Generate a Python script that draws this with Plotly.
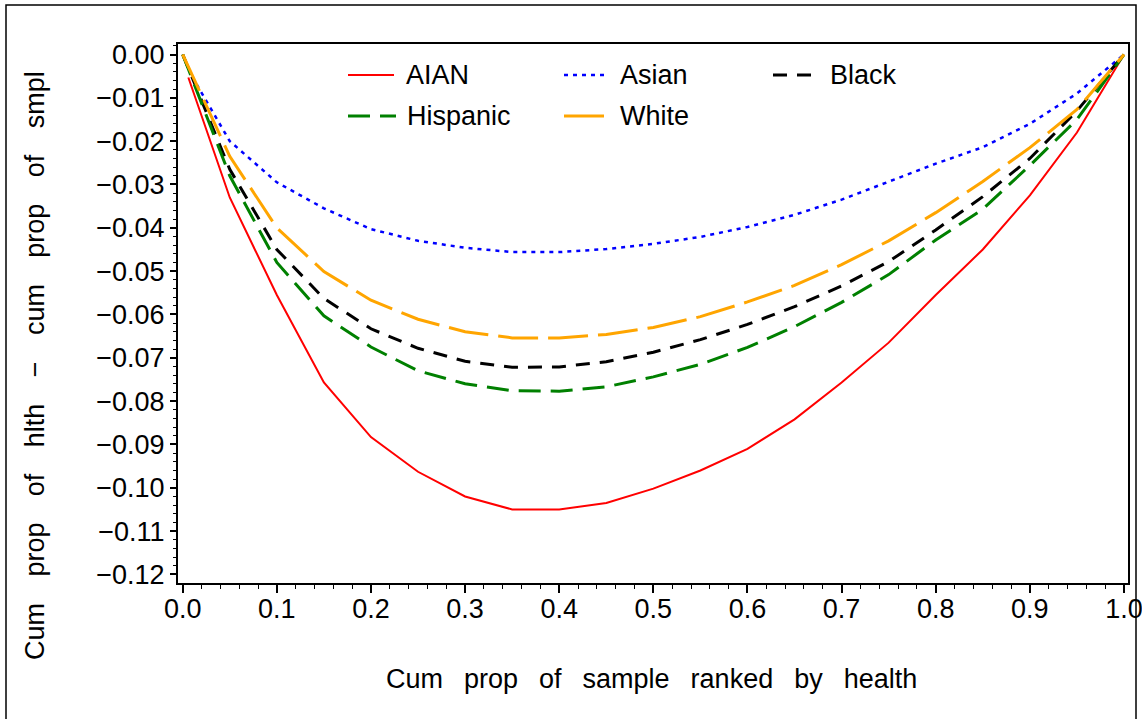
import plotly.graph_objects as go

# Cumulative proportion of the sample, ranked by health
cum_prop = [0.00, 0.05, 0.10, 0.15, 0.20, 0.25, 0.30, 0.35, 0.40, 0.45, 0.50,
            0.55, 0.60, 0.65, 0.70, 0.75, 0.80, 0.85, 0.90, 0.95, 1.00]

# Cum prop of health minus cum prop of sample, per group
aian_x = [0.006] + cum_prop[1:]
aian = [-0.0053, -0.0330, -0.0555, -0.0757, -0.0883, -0.0963, -0.1020, -0.1050,
        -0.1050, -0.1035, -0.1002, -0.0960, -0.0910, -0.0842, -0.0757, -0.0665,
        -0.0555, -0.0450, -0.0325, -0.0180, 0.0000]

asian_x = [0.010] + cum_prop[1:]
asian = [-0.0051, -0.0200, -0.0295, -0.0355, -0.0403, -0.0430, -0.0446, -0.0456,
         -0.0456, -0.0449, -0.0437, -0.0421, -0.0398, -0.0370, -0.0335, -0.0293,
         -0.0252, -0.0214, -0.0160, -0.0090, 0.0000]

black = [0.0000, -0.0265, -0.0450, -0.0563, -0.0633, -0.0678, -0.0708, -0.0722,
         -0.0721, -0.0709, -0.0687, -0.0658, -0.0623, -0.0582, -0.0534, -0.0478,
         -0.0405, -0.0328, -0.0240, -0.0130, 0.0000]

hispanic = [0.0000, -0.0280, -0.0480, -0.0603, -0.0675, -0.0730, -0.0760, -0.0776,
            -0.0777, -0.0767, -0.0744, -0.0715, -0.0676, -0.0628, -0.0572, -0.0508,
            -0.0428, -0.0357, -0.0256, -0.0150, 0.0000]

white = [0.0000, -0.0235, -0.0400, -0.0501, -0.0567, -0.0611, -0.0640, -0.0654,
         -0.0654, -0.0646, -0.0630, -0.0605, -0.0571, -0.0533, -0.0485, -0.0430,
         -0.0365, -0.0293, -0.0215, -0.0127, 0.0000]

x_ticks = [0.0, 0.1, 0.2, 0.3, 0.4, 0.5, 0.6, 0.7, 0.8, 0.9, 1.0]
x_tick_text = ["0.0", "0.1", "0.2", "0.3", "0.4", "0.5", "0.6", "0.7", "0.8", "0.9", "1.0"]
y_ticks = [0.00, -0.01, -0.02, -0.03, -0.04, -0.05, -0.06, -0.07, -0.08, -0.09,
           -0.10, -0.11, -0.12]
y_tick_text = ["0.00", "\u22120.01", "\u22120.02", "\u22120.03", "\u22120.04", "\u22120.05",
               "\u22120.06", "\u22120.07", "\u22120.08", "\u22120.09", "\u22120.10",
               "\u22120.11", "\u22120.12"]

FONT = "Liberation Sans, Arial, sans-serif"
W, H = 1142, 719
L, R, T, B = 178, 1128, 44, 583  # plot area in pixels

series = [
    dict(name="AIAN", x=aian_x, y=aian, color="#FF0000", dash="solid", width=2,
         leg=(348, 394, 404, 75)),
    dict(name="Asian", x=asian_x, y=asian, color="#0000FF", dash="4px,5px", width=2.5,
         leg=(564, 606, 618, 75)),
    dict(name="Black", x=cum_prop, y=black, color="#000000", dash="14px,10px", width=3,
         leg=(773, 815, 828, 75)),
    dict(name="Hispanic", x=cum_prop, y=hispanic, color="#008000", dash="22px,10px", width=3,
         leg=(348, 396, 405, 116)),
    dict(name="White", x=cum_prop, y=white, color="#FFA500", dash="40px,10px", width=3,
         leg=(564, 608, 618, 116)),
]


def px_x(p):
    return (p - L) / (R - L)


def px_y(p):
    return (B - p) / (B - T)


fig = go.Figure()
shapes = []
annotations = []
for s in series:
    fig.add_trace(go.Scatter(x=s["x"], y=s["y"], mode="lines", name=s["name"],
                             line=dict(color=s["color"], dash=s["dash"], width=s["width"]),
                             showlegend=False))
    x0, x1, tx, ty = s["leg"]
    shapes.append(dict(type="line", xref="paper", yref="paper",
                       x0=px_x(x0), x1=px_x(x1), y0=px_y(ty), y1=px_y(ty),
                       line=dict(color=s["color"], width=s["width"], dash=s["dash"])))
    annotations.append(dict(text=s["name"], xref="paper", yref="paper",
                            x=px_x(tx), y=px_y(ty), xanchor="left", yanchor="middle",
                            showarrow=False, font=dict(family=FONT, size=27, color="black")))

# outer frame of the graph
shapes.append(dict(type="rect", xref="paper", yref="paper",
                   x0=px_x(6), x1=px_x(1136), y0=px_y(740), y1=px_y(5),
                   line=dict(color="black", width=1.5), layer="below"))

ysp = "\u2002\u00a0\u2009"
annotations.append(dict(
    text=ysp.join(["Cum", "prop", "of", "hlth", "\u2212", "cum", "prop", "of", "smpl"]),
    xref="paper", yref="paper", x=px_x(35), y=px_y(366), textangle=-90,
    xanchor="center", yanchor="middle", showarrow=False,
    font=dict(family=FONT, size=27, color="black")))

xsp = "\u00a0\u2002"
annotations.append(dict(
    text=xsp.join(["Cum", "prop", "of", "sample", "ranked", "by", "health"]),
    xref="paper", yref="paper", x=px_x(651), y=px_y(679),
    xanchor="center", yanchor="middle", showarrow=False,
    font=dict(family=FONT, size=27, color="black")))

fig.update_layout(
    width=W, height=H,
    margin=dict(l=L, r=W - R, t=T, b=H - B, pad=0),
    paper_bgcolor="white", plot_bgcolor="white",
    font=dict(family=FONT, size=27, color="black"),
    shapes=shapes, annotations=annotations,
    showlegend=False,
)
fig.update_xaxes(
    range=[(L - 182.7) / 941.3, (R - 182.7) / 941.3],
    tickvals=x_ticks, ticktext=x_tick_text,
    ticks="outside", ticklen=8, tickwidth=1.5, tickcolor="black",
    minor=dict(dtick=0.02, ticks="outside", ticklen=4, tickwidth=1.2, tickcolor="black"),
    showline=True, linewidth=2, linecolor="black", mirror=True,
    showgrid=False, zeroline=False, ticklabelstandoff=-7, ticklabeloverflow="allow",
    automargin=False,
)
fig.update_yaxes(
    range=[(54.5 - B) / 4333, (54.5 - T) / 4333],
    tickvals=y_ticks, ticktext=y_tick_text,
    ticks="outside", ticklen=6, tickwidth=1.5, tickcolor="black",
    minor=dict(dtick=0.002, ticks="outside", ticklen=3, tickwidth=1.2, tickcolor="black"),
    showline=True, linewidth=2, linecolor="black", mirror=True,
    showgrid=False, zeroline=False, ticklabelstandoff=0, ticklabeloverflow="allow",
    automargin=False,
)

fig.write_html("out.html")
